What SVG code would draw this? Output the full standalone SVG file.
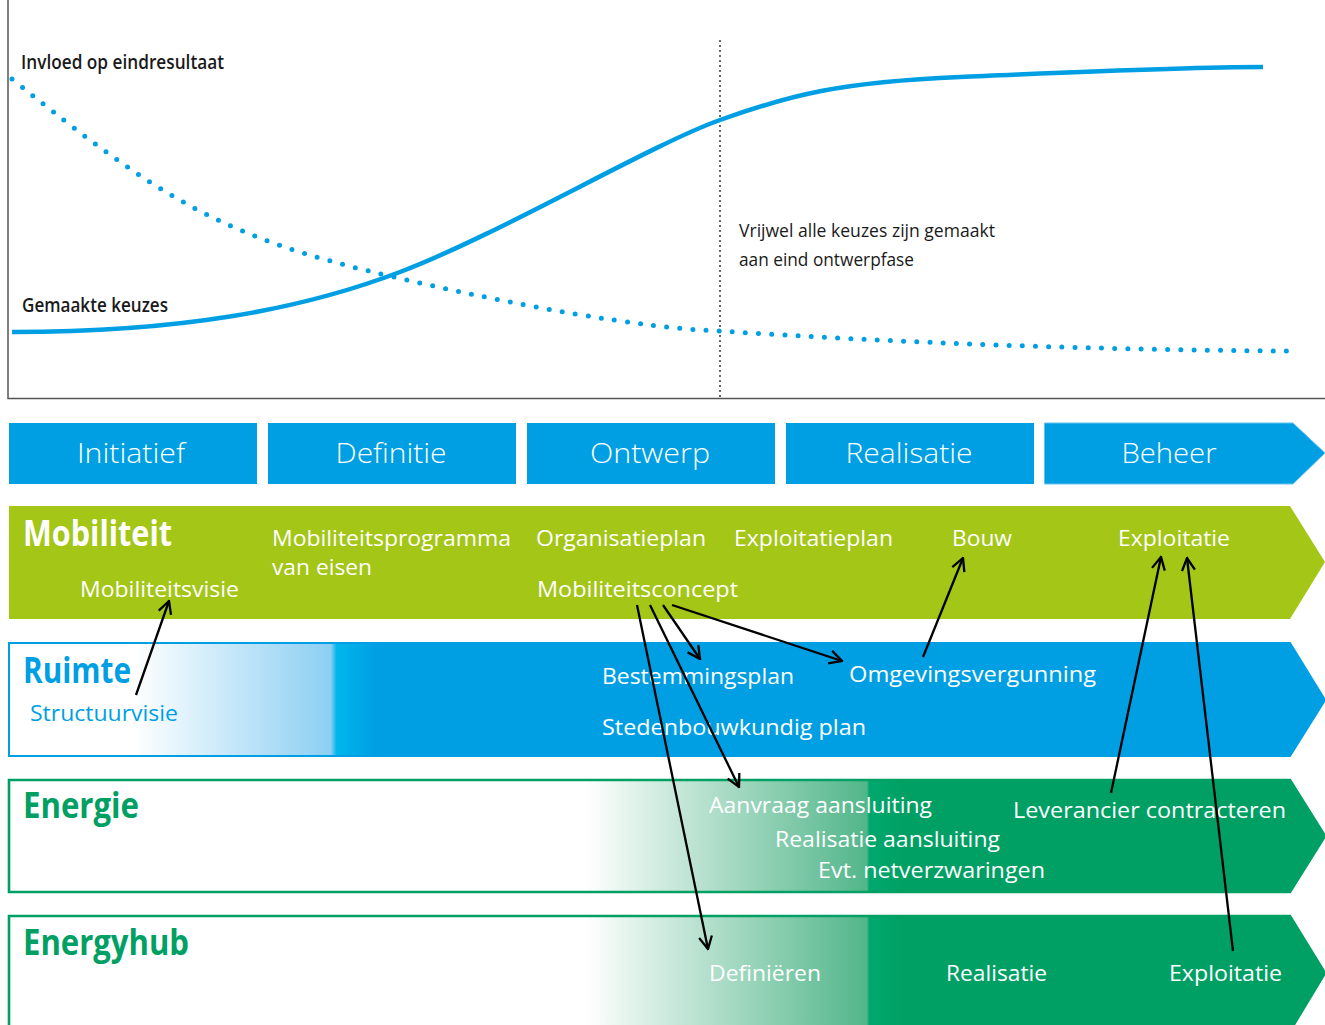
<svg xmlns="http://www.w3.org/2000/svg" width="1325" height="1025" viewBox="0 0 1325 1025">
  <defs>
    <style>
      .axis { stroke:#555; stroke-width:1.5; fill:none; }
      .vdot { stroke:#666; stroke-width:2; stroke-dasharray:2 3; fill:none; }
      .solid { stroke:#009FE3; stroke-width:4.5; fill:none; stroke-linecap:butt; }
      .dots { stroke:#009FE3; stroke-width:5; fill:none; stroke-linecap:round; stroke-dasharray:0 13.2; }
      .chart { font-family:"Open Sans","Liberation Sans",sans-serif; fill:#1a1a1a; font-size:20px; font-weight:600; }
      .note { font-family:"Open Sans","Liberation Sans",sans-serif; fill:#1a1a1a; font-size:19px; }
      .phase { font-family:"Open Sans","Liberation Sans",sans-serif; fill:#fff; font-size:28px; font-weight:300; text-anchor:middle; }
      .lbl { font-family:"Open Sans","Liberation Sans",sans-serif; fill:#fff; font-size:22px; }
      .ttl { font-family:"Open Sans","Liberation Sans",sans-serif; font-size:35px; font-weight:700; }
      .blue { fill:#009FE3; }
      .conn { stroke:#000; stroke-width:2.3; fill:none; marker-end:url(#arr); }
    </style>
    <marker id="arr" viewBox="0 0 16 16" refX="14.5" refY="8" markerWidth="16" markerHeight="16" markerUnits="userSpaceOnUse" orient="auto">
      <path d="M2,1.5 L14.5,8 L2,14.5" fill="none" stroke="#000" stroke-width="2.3"/>
    </marker>
    <linearGradient id="gRuimte" gradientUnits="userSpaceOnUse" x1="8" y1="0" x2="1325" y2="0">
      <stop offset="0" stop-color="#ffffff"/>
      <stop offset="0.095" stop-color="#ffffff"/>
      <stop offset="0.245" stop-color="#8ccff3"/>
      <stop offset="0.2495" stop-color="#00b6ec"/>
      <stop offset="0.28" stop-color="#009FE3"/>
      <stop offset="1" stop-color="#009FE3"/>
    </linearGradient>
    <linearGradient id="gEnergie" gradientUnits="userSpaceOnUse" x1="8" y1="0" x2="1325" y2="0">
      <stop offset="0" stop-color="#ffffff"/>
      <stop offset="0.438" stop-color="#ffffff"/>
      <stop offset="0.652" stop-color="#52b68a"/>
      <stop offset="0.654" stop-color="#00a86e"/>
      <stop offset="0.68" stop-color="#00A064"/>
      <stop offset="1" stop-color="#00A064"/>
    </linearGradient>
  </defs>

  <rect x="0" y="0" width="1325" height="1025" fill="#fff"/>

  <!-- Chart -->
  <g id="chart">
    <path class="axis" d="M8,0 V398.5 H1325"/>
    <path class="vdot" d="M720,40 V398"/>
    <path class="dots" d="M12,79 C162,200 224,238 394,277 C514,305 640,328 720,331 C900,343 1100,350 1292,351"/>
    <path class="solid" d="M12,332 C180,332 300,310 400,272 C500,234 650,145 720,120 C790,95 840,82 960,77 C1080,72 1180,67 1263,67"/>
    <text class="chart" x="21" y="69" textLength="203" lengthAdjust="spacingAndGlyphs">Invloed op eindresultaat</text>
    <text class="chart" x="22" y="312" textLength="146" lengthAdjust="spacingAndGlyphs">Gemaakte keuzes</text>
    <text class="note" x="739" y="237" textLength="256" lengthAdjust="spacingAndGlyphs">Vrijwel alle keuzes zijn gemaakt</text>
    <text class="note" x="739" y="266" textLength="175" lengthAdjust="spacingAndGlyphs">aan eind ontwerpfase</text>
  </g>

  <!-- Phases -->
  <g id="phase-initiatief">
    <rect x="9" y="423" width="248" height="61" fill="#009FE3"/>
    <text class="phase" x="131" y="463" textLength="108" lengthAdjust="spacingAndGlyphs">Initiatief</text>
  </g>
  <g id="phase-definitie">
    <rect x="268" y="423" width="248" height="61" fill="#009FE3"/>
    <text class="phase" x="391" y="463" textLength="111" lengthAdjust="spacingAndGlyphs">Definitie</text>
  </g>
  <g id="phase-ontwerp">
    <rect x="527" y="423" width="248" height="61" fill="#009FE3"/>
    <text class="phase" x="650" y="463" textLength="120" lengthAdjust="spacingAndGlyphs">Ontwerp</text>
  </g>
  <g id="phase-realisatie">
    <rect x="786" y="423" width="248" height="61" fill="#009FE3"/>
    <text class="phase" x="909" y="463" textLength="127" lengthAdjust="spacingAndGlyphs">Realisatie</text>
  </g>
  <g id="phase-beheer">
    <path d="M1044.5,423 H1293 L1325,453 L1293,484 H1044.5 Z" fill="#009FE3" stroke="#62c3ee" stroke-width="1"/>
    <text class="phase" x="1169" y="463" textLength="95" lengthAdjust="spacingAndGlyphs">Beheer</text>
  </g>

  <!-- Mobiliteit band -->
  <g id="band-mobiliteit">
    <path d="M9,506 H1290 L1325,562 L1290,619 H9 Z" fill="#A3C617"/>
    <text class="ttl" x="23" y="546" fill="#fff" textLength="149" lengthAdjust="spacingAndGlyphs">Mobiliteit</text>
  </g>
  <g id="node-mobiliteitsvisie"><text class="lbl" x="80" y="597" textLength="159" lengthAdjust="spacingAndGlyphs">Mobiliteitsvisie</text></g>
  <g id="node-mobiliteitsprogramma">
    <text class="lbl" x="272" y="546" textLength="239" lengthAdjust="spacingAndGlyphs">Mobiliteitsprogramma</text>
    <text class="lbl" x="272" y="575" textLength="100" lengthAdjust="spacingAndGlyphs">van eisen</text>
  </g>
  <g id="node-organisatieplan"><text class="lbl" x="536" y="546" textLength="170" lengthAdjust="spacingAndGlyphs">Organisatieplan</text></g>
  <g id="node-exploitatieplan"><text class="lbl" x="734" y="546" textLength="159" lengthAdjust="spacingAndGlyphs">Exploitatieplan</text></g>
  <g id="node-bouw"><text class="lbl" x="952" y="546" textLength="60" lengthAdjust="spacingAndGlyphs">Bouw</text></g>
  <g id="node-exploitatie-mob"><text class="lbl" x="1118" y="546" textLength="112" lengthAdjust="spacingAndGlyphs">Exploitatie</text></g>
  <g id="node-mobiliteitsconcept"><text class="lbl" x="537" y="597" textLength="201" lengthAdjust="spacingAndGlyphs">Mobiliteitsconcept</text></g>

  <!-- Ruimte band -->
  <g id="band-ruimte">
    <path d="M9,643 H1290 L1325,700 L1290,756 H9 Z" fill="url(#gRuimte)" stroke="#009FE3" stroke-width="2"/>
    <text class="ttl blue" x="23" y="683" textLength="108" lengthAdjust="spacingAndGlyphs">Ruimte</text>
  </g>
  <g id="node-structuurvisie"><text class="lbl blue" x="30" y="721" textLength="148" lengthAdjust="spacingAndGlyphs">Structuurvisie</text></g>
  <g id="node-bestemmingsplan"><text class="lbl" x="602" y="684" textLength="192" lengthAdjust="spacingAndGlyphs">Bestemmingsplan</text></g>
  <g id="node-omgevingsvergunning"><text class="lbl" x="849" y="682" textLength="247" lengthAdjust="spacingAndGlyphs">Omgevingsvergunning</text></g>
  <g id="node-stedenbouwkundig"><text class="lbl" x="602" y="735" textLength="264" lengthAdjust="spacingAndGlyphs">Stedenbouwkundig plan</text></g>

  <!-- Energie band -->
  <g id="band-energie">
    <path d="M9,780 H1290 L1325,836 L1290,892 H9 Z" fill="url(#gEnergie)" stroke="#00A064" stroke-width="2.6"/>
    <text class="ttl" x="23" y="818" fill="#00A064" textLength="116" lengthAdjust="spacingAndGlyphs">Energie</text>
  </g>
  <g id="node-aanvraag"><text class="lbl" x="709" y="813" textLength="223" lengthAdjust="spacingAndGlyphs">Aanvraag aansluiting</text></g>
  <g id="node-realisatie-aansluiting"><text class="lbl" x="775" y="847" textLength="225" lengthAdjust="spacingAndGlyphs">Realisatie aansluiting</text></g>
  <g id="node-netverzwaringen"><text class="lbl" x="818" y="878" textLength="227" lengthAdjust="spacingAndGlyphs">Evt. netverzwaringen</text></g>
  <g id="node-leverancier"><text class="lbl" x="1013" y="818" textLength="273" lengthAdjust="spacingAndGlyphs">Leverancier contracteren</text></g>

  <!-- Energyhub band -->
  <g id="band-energyhub">
    <path d="M9,916 H1290 L1325,973 L1290,1031 H9 Z" fill="url(#gEnergie)" stroke="#00A064" stroke-width="2.6"/>
    <text class="ttl" x="23" y="955" fill="#00A064" textLength="166" lengthAdjust="spacingAndGlyphs">Energyhub</text>
  </g>
  <g id="node-definieren"><text class="lbl" x="709" y="981" textLength="112" lengthAdjust="spacingAndGlyphs">Definiëren</text></g>
  <g id="node-realisatie-hub"><text class="lbl" x="946" y="981" textLength="101" lengthAdjust="spacingAndGlyphs">Realisatie</text></g>
  <g id="node-exploitatie-hub"><text class="lbl" x="1169" y="981" textLength="113" lengthAdjust="spacingAndGlyphs">Exploitatie</text></g>

  <!-- Connectors -->
  <g id="connectors">
    <line class="conn" x1="136" y1="695" x2="169" y2="601"/>
    <line class="conn" x1="637" y1="605" x2="708" y2="949"/>
    <line class="conn" x1="650" y1="605" x2="739" y2="787"/>
    <line class="conn" x1="663" y1="605" x2="700" y2="659"/>
    <line class="conn" x1="672" y1="605" x2="842" y2="661"/>
    <line class="conn" x1="923" y1="657" x2="963" y2="558"/>
    <line class="conn" x1="1111" y1="793" x2="1161" y2="557"/>
    <line class="conn" x1="1233" y1="951" x2="1187" y2="558"/>
  </g>
</svg>
